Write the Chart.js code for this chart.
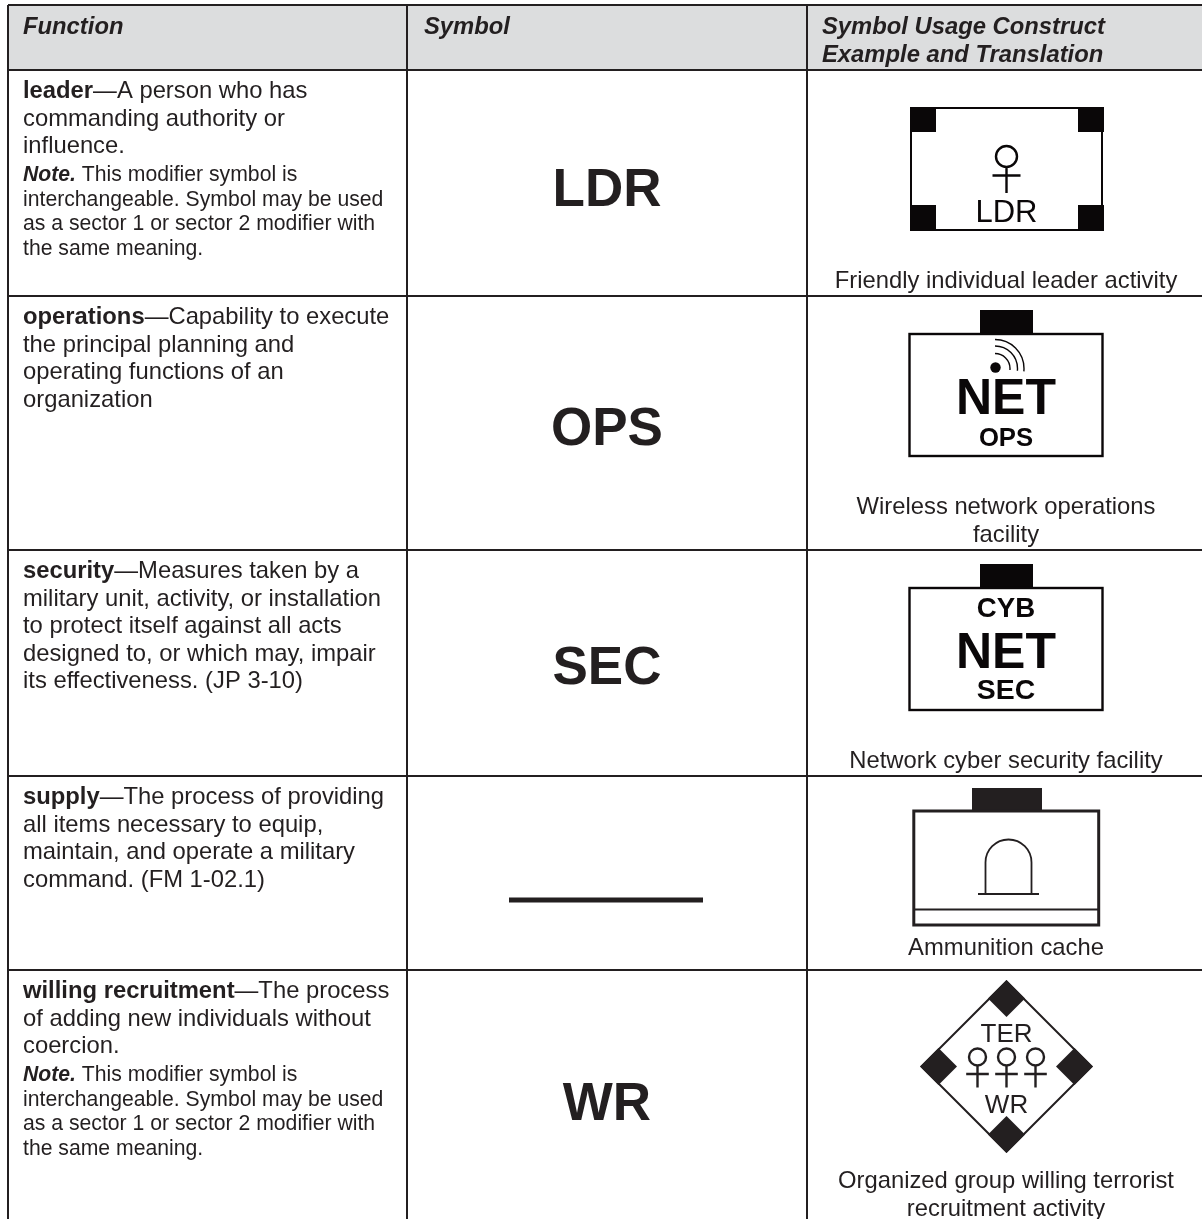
<!DOCTYPE html>
<html>
<head>
<meta charset="utf-8">
<title>Function symbols</title>
<script src="https://cdn.jsdelivr.net/npm/chart.js@4/dist/chart.umd.min.js"></script>
<style>
  html, body { margin: 0; padding: 0; background: #fff; }
  canvas { display: block; }
</style>
</head>
<body>
<canvas id="table" width="1202" height="1219"></canvas>
<script>
// table content
const headers = [['Function'], ['Symbol'], ['Symbol Usage Construct', 'Example and Translation']];
const terms = ['leader', 'operations', 'security', 'supply', 'willing recruitment'];
const definitions = [
  ['—A person who has', 'commanding authority or', 'influence.'],
  ['—Capability to execute', 'the principal planning and', 'operating functions of an', 'organization'],
  ['—Measures taken by a', 'military unit, activity, or installation', 'to protect itself against all acts', 'designed to, or which may, impair', 'its effectiveness. (JP 3-10)'],
  ['—The process of providing', 'all items necessary to equip,', 'maintain, and operate a military', 'command. (FM 1-02.1)'],
  ['—The process', 'of adding new individuals without', 'coercion.']
];
const noteLines = [
  ' This modifier symbol is',
  'interchangeable. Symbol may be used',
  'as a sector 1 or sector 2 modifier with',
  'the same meaning.'
];
const hasNote = [true, false, false, false, true];
const symbols = ['LDR', 'OPS', 'SEC', '', 'WR'];
const captions = [
  ['Friendly individual leader activity'],
  ['Wireless network operations', 'facility'],
  ['Network cyber security facility'],
  ['Ammunition cache'],
  ['Organized group willing terrorist', 'recruitment activity']
];

// layout of the page, in page pixels
const columnEdges = [8, 407, 807];
const headerInsets = [15, 17, 15];
const rowEdges = [5, 70, 296, 550, 776, 970];
const symbolBaselines = [206, 445, 684, null, 1120];
const captionBaselines = [288, 514, 768, 955, 1188];

const INK = '#231f20';
const BLACK = '#0a0708';
const HEADER_FILL = '#dcddde';
const FONT = '"Liberation Sans", Arial, sans-serif';
const BODY = 23.8;
const NOTE = 21.2;

function text(ctx, str, x, y, font, align) {
  ctx.font = font;
  ctx.textAlign = align || 'left';
  ctx.textBaseline = 'alphabetic';
  ctx.fillText(str, x, y);
  return ctx.measureText(str).width;
}

function box(ctx, x0, y0, x1, y1, w) {
  ctx.lineWidth = w;
  ctx.strokeRect(x0, y0, x1 - x0, y1 - y0);
}

function person(ctx, cx, top, r, crossY, halfW, bottom, w) {
  ctx.lineWidth = w;
  ctx.beginPath();
  ctx.arc(cx, top + r, r, 0, Math.PI * 2);
  ctx.moveTo(cx, top + r * 2);
  ctx.lineTo(cx, bottom);
  ctx.moveTo(cx - halfW, crossY);
  ctx.lineTo(cx + halfW, crossY);
  ctx.stroke();
}

function diamond(ctx, cx, cy, r) {
  ctx.beginPath();
  ctx.moveTo(cx, cy - r);
  ctx.lineTo(cx + r, cy);
  ctx.lineTo(cx, cy + r);
  ctx.lineTo(cx - r, cy);
  ctx.closePath();
}

// ---- usage construct drawings ----
function drawLeader(ctx) {
  box(ctx, 911, 108, 1102, 230, 2);
  ctx.fillRect(910, 107, 26, 25);
  ctx.fillRect(1078, 107, 26, 25);
  ctx.fillRect(910, 205, 26, 26);
  ctx.fillRect(1078, 205, 26, 26);
  person(ctx, 1006.5, 146, 10.5, 175.5, 14, 193, 2.4);
  text(ctx, 'LDR', 1006.5, 222, '31px ' + FONT, 'center');
}

function drawNetBox(ctx, top) {
  ctx.fillRect(980, top, 53, 24);
  box(ctx, 909.5, top + 24, 1102.5, top + 146, 2.4);
}

function drawOps(ctx) {
  drawNetBox(ctx, 310);
  text(ctx, 'NET', 1006, 414, 'bold 50px ' + FONT, 'center');
  text(ctx, 'OPS', 1006, 445.5, 'bold 25.7px ' + FONT, 'center');
  // signal mark
  ctx.beginPath();
  ctx.arc(995.5, 367.5, 5.2, 0, Math.PI * 2);
  ctx.fill();
  ctx.lineWidth = 1.4;
  [15, 22.5, 29].forEach(r => {
    ctx.beginPath();
    ctx.arc(995, 368.5, r, -Math.PI / 2, 0.1);
    ctx.stroke();
  });
}

function drawSec(ctx) {
  drawNetBox(ctx, 564);
  text(ctx, 'CYB', 1006, 616.7, 'bold 27.6px ' + FONT, 'center');
  text(ctx, 'NET', 1006, 667.7, 'bold 50px ' + FONT, 'center');
  text(ctx, 'SEC', 1006, 698.5, 'bold 28.4px ' + FONT, 'center');
}

function drawCache(ctx) {
  ctx.fillRect(972, 788, 70, 22);
  box(ctx, 913.8, 811, 1098.7, 925, 3);
  ctx.lineWidth = 2;
  ctx.beginPath();
  ctx.moveTo(913, 909.5);
  ctx.lineTo(1099, 909.5);
  ctx.stroke();
  ctx.lineWidth = 1.8;
  ctx.beginPath();
  ctx.moveTo(985.5, 894);
  ctx.lineTo(985.5, 862.5);
  ctx.arc(1008.5, 862.5, 23, Math.PI, 0);
  ctx.lineTo(1031.5, 894);
  ctx.moveTo(978, 894);
  ctx.lineTo(1039, 894);
  ctx.stroke();
}

function drawGroup(ctx) {
  ctx.lineWidth = 2;
  diamond(ctx, 1006.5, 1066.5, 85);
  ctx.stroke();
  [[1006.5, 998.5], [1006.5, 1134.5], [938.5, 1066.5], [1074.5, 1066.5]].forEach(c => {
    diamond(ctx, c[0], c[1], 18.5);
    ctx.fill();
  });
  text(ctx, 'TER', 1006.5, 1041.5, '26px ' + FONT, 'center');
  text(ctx, 'WR', 1006.5, 1112.5, '26px ' + FONT, 'center');
  [977.5, 1006.5, 1035.5].forEach(cx => person(ctx, cx, 1048.5, 8.5, 1074, 11.3, 1087.5, 2.4));
}

const tablePlugin = {
  id: 'tablePlugin',
  beforeDraw(chart) {
    // goes under the grid so the rules stay visible across the header
    const { ctx, chartArea: a, scales: { y } } = chart;
    ctx.save();
    ctx.fillStyle = HEADER_FILL;
    ctx.fillRect(a.left, y.getPixelForValue(rowEdges[0]), a.right - a.left,
      y.getPixelForValue(rowEdges[1]) - y.getPixelForValue(rowEdges[0]));
    ctx.restore();
  },
  afterDatasetsDraw(chart) {
    const { ctx, scales: { x, y } } = chart;
    ctx.save();
    ctx.fillStyle = INK;
    ctx.strokeStyle = INK;

    // header row
    headers.forEach((lines, c) => {
      lines.forEach((line, i) => {
        text(ctx, line, x.getPixelForValue(columnEdges[c] + headerInsets[c]), y.getPixelForValue(34 + i * 28),
          'italic bold ' + BODY + 'px ' + FONT);
      });
    });

    // function column
    const left = x.getPixelForValue(columnEdges[0] + 15);
    terms.forEach((term, r) => {
      let base = y.getPixelForValue(rowEdges[r + 1] + 28);
      const w = text(ctx, term, left, base, 'bold ' + BODY + 'px ' + FONT);
      definitions[r].forEach((line, i) => {
        text(ctx, line, i === 0 ? left + w : left, base + i * 27.5, BODY + 'px ' + FONT);
      });
      if (hasNote[r]) {
        base += (definitions[r].length - 1) * 27.5 + 28;
        const nw = text(ctx, 'Note.', left, base, 'italic bold ' + NOTE + 'px ' + FONT);
        noteLines.forEach((line, i) => {
          text(ctx, line, i === 0 ? left + nw : left, base + i * 24.7, NOTE + 'px ' + FONT);
        });
      }
    });

    // symbol column, read from the dataset points
    const pts = chart.getDatasetMeta(0).data;
    symbols.forEach((s, r) => {
      if (s) text(ctx, s, pts[r].x, pts[r].y, 'bold 53px ' + FONT, 'center');
    });

    // example column
    const mid = x.getPixelForValue(1006);
    captions.forEach((lines, r) => {
      lines.forEach((line, i) => {
        text(ctx, line, mid, y.getPixelForValue(captionBaselines[r]) + i * 28, BODY + 'px ' + FONT, 'center');
      });
    });

    ctx.fillStyle = BLACK;
    ctx.strokeStyle = BLACK;
    drawLeader(ctx);
    drawOps(ctx);
    drawSec(ctx);
    ctx.fillStyle = INK;
    ctx.strokeStyle = INK;
    drawCache(ctx);
    drawGroup(ctx);
    ctx.restore();
  }
};

new Chart(document.getElementById('table'), {
  type: 'scatter',
  data: {
    datasets: [
      {
        // anchors of the large symbol codes
        data: symbols.map((s, r) => ({ x: 607, y: s ? symbolBaselines[r] : null })),
        pointRadius: 0,
        showLine: false
      },
      {
        // the supply symbol is a plain rule
        data: [{ x: 509, y: 900 }, { x: 703, y: 900 }],
        pointRadius: 0,
        showLine: true,
        borderColor: INK,
        borderWidth: 5
      }
    ]
  },
  options: {
    responsive: false,
    animation: false,
    layout: { padding: { left: 8, top: 5, right: 0, bottom: 0 } },
    plugins: { legend: { display: false }, tooltip: { enabled: false } },
    scales: {
      x: {
        type: 'linear',
        min: 8,
        max: 1202,
        afterBuildTicks: axis => { axis.ticks = columnEdges.map(v => ({ value: v })); },
        ticks: { display: false },
        border: { display: false },
        grid: { color: INK, lineWidth: 2, drawTicks: false }
      },
      y: {
        type: 'linear',
        reverse: true,
        min: 5,
        max: 1219,
        afterBuildTicks: axis => { axis.ticks = rowEdges.map(v => ({ value: v })); },
        ticks: { display: false },
        border: { display: false },
        grid: { color: INK, lineWidth: 2, drawTicks: false }
      }
    }
  },
  plugins: [tablePlugin]
});
</script>
</body>
</html>
